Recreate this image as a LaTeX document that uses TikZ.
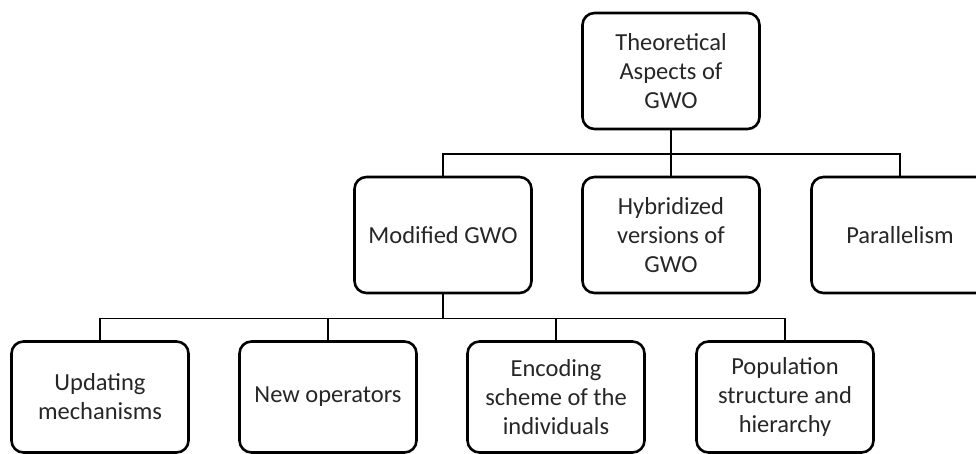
\documentclass[tikz,border=0pt]{standalone}
\usepackage{fontspec}
\setmainfont{Carlito}
\usepackage{tikz}

\begin{document}
\begin{tikzpicture}[x=1pt,y=-1pt,
  blockbox/.style={draw,line width=2.6pt,rounded corners=12pt,
    minimum width=177pt,minimum height=116pt,align=center,
    text=black!85,font=\fontsize{24.5}{29}\selectfont},
  leafbox/.style={blockbox,minimum height=111pt},
  link/.style={line width=1.6pt}]
\clip (0,0) rectangle (976,454);
% top level
\node[blockbox] (theory) at (671,71) {Theoretical\\Aspects of\\GWO};
% second level
\node[blockbox] (modified) at (443,235) {Modified GWO};
\node[blockbox] (hybrid) at (671,235) {Hybridized\\versions of\\GWO};
\node[blockbox] (parallel) at (900,235) {Parallelism};
% third level
\node[leafbox] (updating) at (100,397) {Updating\\mechanisms};
\node[leafbox] (operators) at (328,397) {New operators};
\node[leafbox] (encoding) at (556,397) {Encoding\\scheme of the\\individuals};
\node[leafbox] (population) at (785,397) {Population\\structure and\\hierarchy};
% connectors
\draw[link] (theory.south) -- (hybrid.north);
\draw[link] (theory.south) -- ++(0,24) -| (modified.north);
\draw[link] (theory.south) -- ++(0,24) -| (parallel.north);
\foreach \child in {updating,operators,encoding,population}
  \draw[link] (modified.south) -- ++(0,24) -| (\child.north);
\end{tikzpicture}
\end{document}
